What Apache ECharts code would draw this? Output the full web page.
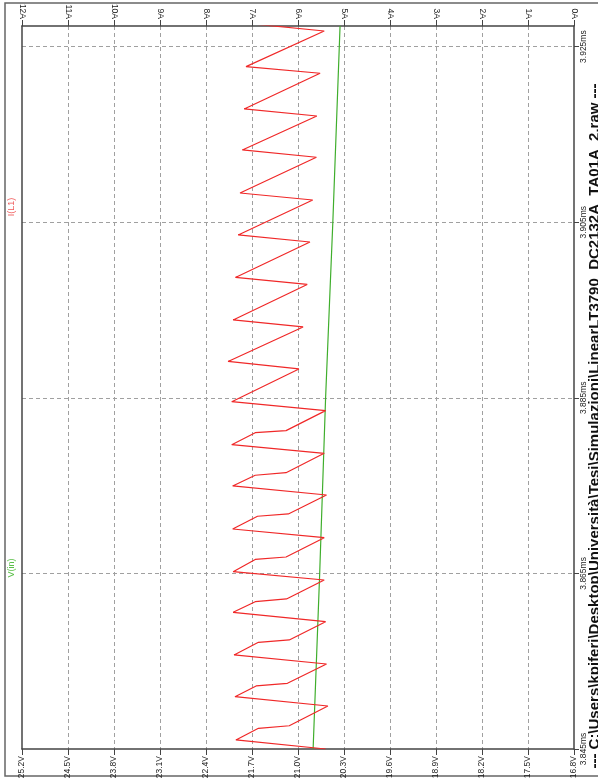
<!DOCTYPE html>
<html>
<head>
<meta charset="utf-8">
<script src="https://cdn.jsdelivr.net/npm/echarts@6/dist/echarts.min.js"></script>
<style>
  html, body { margin: 0; padding: 0; background: #fff; }
  #chart { width: 598px; height: 778px; }
</style>
</head>
<body>
<div id="chart"></div>
<script>
// Transient simulation: inductor current I(L1) and input voltage V(in)
// Time runs bottom-to-top (ms), values run right-to-left.

const timeRange = [3.845, 3.92735];   // ms
const timeStep = 0.02;
const voltRange = [16.8, 25.2];       // V
const voltStep = 0.7;
const ampRange = [0, 12];             // A
const ampStep = 1;

const traceNames = ['V(in)', 'I(L1)'];
const fileTitle = '--- C:\\Users\\kpiferi\\Desktop\\Università\\Tesi\\Simulazioni\\LinearLT3790_DC2132A_TA01A_2.raw ---';

// I(L1) vertices
const iL1Time = [
  3.84500, 3.84603, 3.84736, 3.84765,
  3.84990, 3.85096, 3.85218, 3.85248,
  3.85468, 3.85571, 3.85715, 3.85742,
  3.85950, 3.86057, 3.86178, 3.86209,
  3.86425, 3.86520, 3.86659, 3.86687,
  3.86907, 3.87006, 3.87151, 3.87177,
  3.87393, 3.87496, 3.87618, 3.87647,
  3.87868, 3.87966, 3.88103, 3.88126,
  3.88354, 3.88456,
  3.88829, 3.88914,
  3.89307, 3.89387, 3.89791, 3.89871, 3.90275, 3.90355, 3.90753, 3.90833,
  3.91240, 3.91323, 3.91710, 3.91790, 3.92197, 3.92272, 3.92678, 3.92764
];
const iL1 = [
  5.40, 7.35, 6.86, 6.19,
  5.35, 7.37, 6.91, 6.23,
  5.38, 7.39, 6.86, 6.19,
  5.40, 7.41, 6.93, 6.25,
  5.43, 7.41, 6.93, 6.26,
  5.43, 7.42, 6.88, 6.21,
  5.38, 7.42, 6.93, 6.26,
  5.43, 7.44, 6.93, 6.26,
  5.40, 7.44,
  5.98, 7.52,
  5.89, 7.41, 5.80, 7.36, 5.74, 7.30, 5.68, 7.26,
  5.60, 7.21, 5.59, 7.17, 5.52, 7.13, 5.43, 7.09
];

// V(in) samples
const vInTime = [3.845, 3.865, 3.885, 3.905, 3.92735];
const vIn = [20.77, 20.67, 20.58, 20.47, 20.36];

const FONT = 'Liberation Sans, Arial, sans-serif';
const AXIS_COLOR = '#444';
const GRID_COLOR = '#a0a0a0';
const LABEL_COLOR = '#222';
const RED = '#f02828';
const GREEN = '#3fae2c';

const chart = echarts.init(document.getElementById('chart'), null, { renderer: 'canvas' });

const dashed = { show: true, lineStyle: { color: GRID_COLOR, type: [4, 3], width: 1 } };

chart.setOption({
  animation: false,
  backgroundColor: '#fff',
  grid: {
    left: 22, right: 24, top: 26, bottom: 29,
    containLabel: false,
    outerBoundsMode: 'none',
    show: false
  },
  xAxis: [
    {
      // voltage scale along the bottom edge
      type: 'value',
      position: 'bottom',
      inverse: true,
      min: voltRange[0], max: voltRange[1], interval: voltStep,
      axisLine: { show: true, onZero: false, lineStyle: { color: AXIS_COLOR, width: 1.5 } },
      axisTick: { show: true, length: 6, lineStyle: { color: AXIS_COLOR } },
      axisLabel: {
        rotate: 90, margin: 7, interval: 0, hideOverlap: false,
        color: LABEL_COLOR, fontFamily: FONT, fontSize: 8.5,
        formatter: v => v.toFixed(1) + 'V'
      },
      splitLine: Object.assign({ showMinLine: false, showMaxLine: false }, dashed),
      z: 2
    },
    {
      // current scale along the top edge
      type: 'value',
      position: 'top',
      inverse: true,
      min: ampRange[0], max: ampRange[1], interval: ampStep,
      axisLine: { show: true, onZero: false, lineStyle: { color: AXIS_COLOR, width: 1.5 } },
      axisTick: { show: true, length: 6, lineStyle: { color: AXIS_COLOR } },
      axisLabel: {
        rotate: 90, margin: 7, interval: 0, hideOverlap: false,
        color: LABEL_COLOR, fontFamily: FONT, fontSize: 8.5,
        formatter: v => Math.round(v) + 'A'
      },
      splitLine: { show: false },
      z: 2
    }
  ],
  yAxis: [
    {
      // time scale on the right edge
      type: 'value',
      position: 'right',
      min: timeRange[0], max: timeRange[1], interval: timeStep,
      axisLine: { show: true, onZero: false, lineStyle: { color: AXIS_COLOR, width: 1.5 } },
      axisTick: { show: true, length: 5, lineStyle: { color: AXIS_COLOR } },
      axisLabel: {
        rotate: 90, margin: 5, showMaxLabel: false, hideOverlap: false,
        color: LABEL_COLOR, fontFamily: FONT, fontSize: 8.5,
        formatter: v => v.toFixed(3) + 'ms'
      },
      splitLine: Object.assign({ showMinLine: false, showMaxLine: false }, dashed),
      z: 1
    },
    {
      // plain left border
      type: 'value',
      position: 'left',
      min: timeRange[0], max: timeRange[1],
      axisLine: { show: true, onZero: false, lineStyle: { color: AXIS_COLOR, width: 1.5 } },
      axisTick: { show: false },
      axisLabel: { show: false },
      splitLine: { show: false },
      z: 2
    }
  ],
  series: [
    {
      name: traceNames[0],
      type: 'line',
      xAxisIndex: 0, yAxisIndex: 0,
      data: vInTime.map((t, i) => [vIn[i], t]),
      showSymbol: false, symbol: 'none',
      lineStyle: { color: GREEN, width: 1.2 },
      clip: true, z: 3
    },
    {
      name: traceNames[1],
      type: 'line',
      xAxisIndex: 1, yAxisIndex: 0,
      data: iL1Time.map((t, i) => [iL1[i], t]),
      showSymbol: false, symbol: 'none',
      lineStyle: { color: RED, width: 1.2 },
      clip: true, z: 4
    }
  ],
  graphic: [
    {
      type: 'rect', silent: true, z: 0,
      shape: { x: 5, y: 3, width: 600, height: 773 },
      style: { fill: 'none', stroke: '#666', lineWidth: 1.5 }
    },
    {
      type: 'text', z: 10,
      x: 12, y: 568, rotation: Math.PI / 2,
      style: { text: traceNames[0], fill: '#5cbf4a', font: '9px ' + FONT, align: 'center', verticalAlign: 'middle' }
    },
    {
      type: 'text', z: 10,
      x: 12, y: 207, rotation: Math.PI / 2,
      style: { text: traceNames[1], fill: '#f05a5a', font: '9px ' + FONT, align: 'center', verticalAlign: 'middle' }
    },
    {
      type: 'text', z: 10,
      x: 595, y: 426, rotation: Math.PI / 2,
      style: { text: fileTitle, fill: '#111', font: 'bold 15px ' + FONT, align: 'center', verticalAlign: 'middle' }
    }
  ]
});
</script>
</body>
</html>
